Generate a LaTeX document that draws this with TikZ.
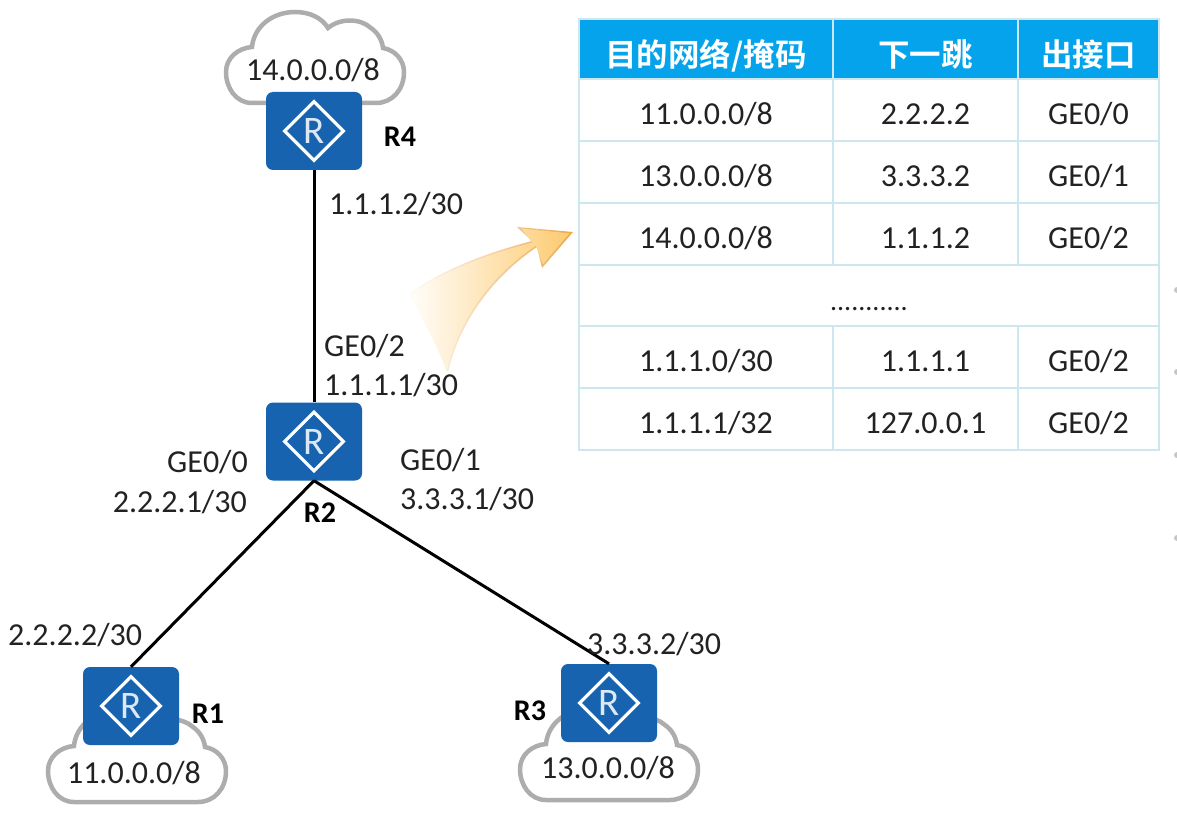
\documentclass[tikz,border=0pt]{standalone}
\usepackage{fontspec}
\setmainfont{Carlito}
\newfontfamily\cjk{Noto Sans CJK SC}[BoldFont={Noto Sans CJK SC Bold}]
\usetikzlibrary{shapes.geometric}
\definecolor{routerblue}{HTML}{1763B0}
\definecolor{headblue}{HTML}{04A3EC}
\definecolor{gridblue}{HTML}{CDE7F0}
\definecolor{cloudgrey}{HTML}{ADADAD}
\definecolor{txt}{HTML}{222222}
\definecolor{arrowfill}{HTML}{FDC869}
\definecolor{arrowline}{HTML}{EBA548}
\tikzset{
  router/.style={rectangle, rounded corners=7pt, fill=routerblue, minimum width=96pt, minimum height=78pt, inner sep=0pt},
  rmark/.style={diamond, draw=white, line width=3.2pt, minimum width=60pt, minimum height=60pt, inner sep=0pt, text=white!85!routerblue, font=\fontsize{39}{39}\selectfont},
  lnk/.style={line width=3pt, draw=black},
  lbl/.style={font=\fontsize{32}{34}\selectfont, text=txt, inner sep=0pt},
  rname/.style={font=\bfseries\fontsize{30}{32}\selectfont, text=black, inner sep=0pt},
  cell/.style={draw=gridblue, line width=2pt, fill=white, inner sep=0pt, font=\fontsize{32}{34}\selectfont, text=txt, text height=30pt, text depth=0pt},
  hcell/.style={cell, fill=headblue, text=white, font=\cjk\bfseries\fontsize{31.5}{34}\selectfont, text height=35pt},
  tc/.style={minimum width=#1, minimum height=61.7pt, anchor=north west},
  cloudline/.style={draw=cloudgrey, line width=4.5pt, fill=white},
}
\newcommand{\cloudat}[2]{%
  \draw[cloudline, shift={(#1,#2)}] (266,103) -- (252,103)
    .. controls (236,103) and (226,88) .. (226,72)
    .. controls (226,58) and (238,48) .. (252,47)
    .. controls (254,26) and (273,12) .. (295,12)
    .. controls (310,12) and (322,18) .. (328,28)
    .. controls (340,18) and (360,18) .. (371,28)
    .. controls (378,33) and (382,40) .. (383,48)
    .. controls (395,50) and (404,60) .. (404,72)
    .. controls (404,90) and (392,103) .. (376,103) -- cycle;}
\newcommand{\arrowgrad}[1]{%
  \shade[shading angle=32, left color=white, middle color=#1!48!white, right color=#1] (404,222) rectangle (578,378);}
\begin{document}
\begin{tikzpicture}[x=1pt,y=-1pt]
\useasboundingbox (0,0) rectangle (1177,821);
\fill[white] (0,0) rectangle (1177,821);
% edge marks
\foreach \yy in {290,372,455,538} \fill[cloudgrey!70] (1177,\yy) circle (3);
% clouds
\cloudat{0}{0}
\cloudat{-178}{699}
\cloudat{294}{697}
% routers
\node[router] (r4) at (314,131) {};
\node[router] (r2) at (314,441.5) {};
\node[router] (r1) at (131,706) {};
\node[router] (r3) at (609,703) {};
\node[rmark] (m4) at (r4) {R};
\node[rmark] (m2) at (r2) {R};
\node[rmark] (m1) at (r1) {R};
\node[rmark] (m3) at (r3) {R};
% links
\draw[lnk] (r4.south) -- (r2.north);
\draw[lnk] (r2.south) -- (r1.north);
\draw[lnk] (r2.south) -- (r3.north);
% arrow
\begin{scope}
\clip (448,372) .. controls (460,320) and (495,275) .. (537,247)
  -- (542,268) -- (573,232) -- (517,227) -- (532,241)
  .. controls (490,252) and (445,268) .. (410,293)
  .. controls (420,315) and (440,350) .. (448,372) -- cycle;
\arrowgrad{arrowline}
\end{scope}
\begin{scope}
\clip (446.5,372) .. controls (458.5,318.5) and (493.5,273.5) .. (536,245.7)
  -- (542.8,264.5) -- (569.5,233.3) -- (521,228.6) -- (532.4,242.6)
  .. controls (490,253.5) and (445,269.5) .. (410,295)
  .. controls (420,315) and (440,350) .. (446.5,372) -- cycle;
\arrowgrad{arrowfill}
\end{scope}
% cloud labels
\node[lbl] (c4) at (313,70) {14.0.0.0/8};
\node[lbl] (c1) at (134,773) {11.0.0.0/8};
\node[lbl] (c3) at (608,768) {13.0.0.0/8};
% router names
\node[rname] (n4) at (400,137) {R4};
\node[rname] (n2) at (320,513) {R2};
\node[rname] (n1) at (208,714) {R1};
\node[rname] (n3) at (530,711) {R3};
% address labels
\node[lbl,anchor=west] (a1) at (329,204) {1.1.1.2/30};
\node[lbl,anchor=west] (a2) at (324,346) {GE0/2};
\node[lbl,anchor=west] (a3) at (324,385) {1.1.1.1/30};
\node[lbl,anchor=east] (a4) at (248,462) {GE0/0};
\node[lbl,anchor=east] (a5) at (247,502) {2.2.2.1/30};
\node[lbl,anchor=west] (a6) at (400,460) {GE0/1};
\node[lbl,anchor=west] (a7) at (400,499) {3.3.3.1/30};
\node[lbl,anchor=west] (a8) at (8,635) {2.2.2.2/30};
\node[lbl,anchor=west] (a9) at (587,644) {3.3.3.2/30};
% table
\node[hcell,tc=254pt,minimum height=60.5pt] (h1) at (578,18) {目的网络/掩码};
\node[hcell,tc=185pt,minimum height=60.5pt] (h2) at (832,18) {下一跳};
\node[hcell,tc=141pt,minimum height=60.5pt] (h3) at (1017,18) {出接口};
\node[cell,tc=254pt] (t11) at (578,78) {11.0.0.0/8};
\node[cell,tc=185pt] (t12) at (832,78) {2.2.2.2};
\node[cell,tc=141pt] (t13) at (1017,78) {GE0/0};
\node[cell,tc=254pt] (t21) at (578,140) {13.0.0.0/8};
\node[cell,tc=185pt] (t22) at (832,140) {3.3.3.2};
\node[cell,tc=141pt] (t23) at (1017,140) {GE0/1};
\node[cell,tc=254pt] (t31) at (578,202) {14.0.0.0/8};
\node[cell,tc=185pt] (t32) at (832,202) {1.1.1.2};
\node[cell,tc=141pt] (t33) at (1017,202) {GE0/2};
\node[cell,tc=580pt,font=\fontsize{28}{30}\selectfont] (t41) at (578,263.5) {...........};
\node[cell,tc=254pt] (t51) at (578,325) {1.1.1.0/30};
\node[cell,tc=185pt] (t52) at (832,325) {1.1.1.1};
\node[cell,tc=141pt] (t53) at (1017,325) {GE0/2};
\node[cell,tc=254pt] (t61) at (578,387) {1.1.1.1/32};
\node[cell,tc=185pt] (t62) at (832,387) {127.0.0.1};
\node[cell,tc=141pt] (t63) at (1017,387) {GE0/2};
\end{tikzpicture}
\end{document}
